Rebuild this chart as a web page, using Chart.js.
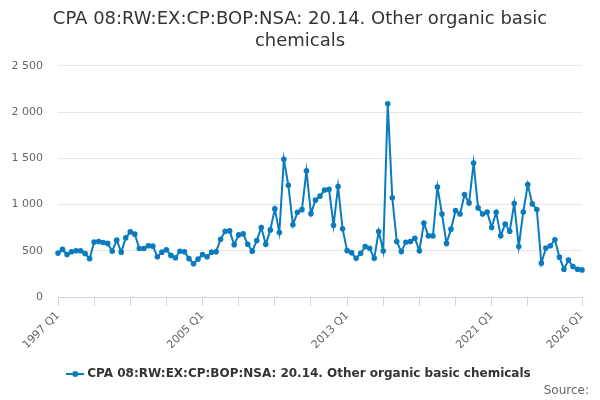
<!DOCTYPE html>
<html>
<head>
<meta charset="utf-8">
<script src="https://cdn.jsdelivr.net/npm/chart.js@4.4.1/dist/chart.umd.min.js"></script>
<style>
  html, body { margin: 0; padding: 0; background: #fff; }
  #wrap { width: 600px; height: 400px; }
</style>
</head>
<body>
<div id="wrap"><canvas id="chart"></canvas></div>
<script>
// quarters 1997 Q1 .. 2026 Q1
const quarters = [];
for (let y = 1997; y <= 2026; y++) {
    for (let q = 1; q <= 4; q++) {
        if (y === 2026 && q > 1) break;
        quarters.push(y + ' Q' + q);
    }
}

const seriesName = 'CPA 08:RW:EX:CP:BOP:NSA: 20.14. Other organic basic chemicals';

const values = [
    475, 515, 460, 490, 500, 500, 470, 415,
    595, 600, 590, 580, 495, 615, 485, 640,
    705, 680, 525, 525, 555, 550, 435, 485,
    510, 450, 425, 495, 490, 415, 360, 410,
    460, 435, 485, 490, 625, 710, 715, 565,
    672, 683, 570, 496, 610, 752, 570, 726,
    953, 697, 1490, 1208, 781, 916, 945, 1365,
    902, 1048, 1091, 1157, 1164, 775, 1196, 738,
    502, 480, 418, 473, 545, 527, 418, 709,
    498, 2090, 1073, 600, 491, 593, 600, 636,
    500, 799, 661, 661, 1190, 898, 580, 734,
    934, 898, 1109, 1018, 1449, 964, 898, 920,
    752, 916, 662, 790, 712, 1011, 547, 920,
    1217, 1007, 946, 366, 529, 554, 620, 431,
    301, 399, 330, 301, 293
];

// tick marks every 2 years, labels every 8 years plus the last quarter
const tickIndexes = [0, 8, 16, 24, 32, 40, 48, 56, 64, 72, 80, 88, 96, 104, 116];
const labelIndexes = [0, 32, 64, 96, 116];

const yTicks = [0, 500, 1000, 1500, 2000, 2500];

const lineColor = '#0a7bbf';

// legend symbol: short line with a dot
const legendIcon = document.createElement('canvas');
legendIcon.width = 18;
legendIcon.height = 8;
const ictx = legendIcon.getContext('2d');
ictx.strokeStyle = lineColor;
ictx.lineWidth = 2;
ictx.beginPath();
ictx.moveTo(0, 4);
ictx.lineTo(18, 4);
ictx.stroke();
ictx.fillStyle = lineColor;
ictx.beginPath();
ictx.arc(9, 4, 3, 0, Math.PI * 2);
ictx.fill();

// "Source:" credit at the bottom right
const sourceText = {
    id: 'sourceText',
    afterDraw(chart) {
        const c = chart.ctx;
        c.save();
        c.font = '12px "DejaVu Sans"';
        c.fillStyle = '#666666';
        c.textAlign = 'right';
        c.textBaseline = 'middle';
        c.fillText('Source:', 589, 391);
        c.restore();
    }
};

const ctx = document.getElementById('chart');

new Chart(ctx, {
    type: 'line',
    data: {
        labels: quarters,
        datasets: [{
            label: seriesName,
            data: values,
            borderColor: lineColor,
            backgroundColor: lineColor,
            borderWidth: 2,
            pointRadius: 1.8,
            pointHoverRadius: 3,
            tension: 0
        }]
    },
    plugins: [sourceText],
    options: {
        responsive: true,
        maintainAspectRatio: false,
        animation: false,
        layout: {
            padding: { left: 9, right: 9, top: 0, bottom: 10 }
        },
        plugins: {
            title: {
                display: true,
                text: ['CPA 08:RW:EX:CP:BOP:NSA: 20.14. Other organic basic', 'chemicals'],
                color: '#333333',
                font: { family: 'DejaVu Sans', size: 18, weight: 'normal', lineHeight: 1.22 },
                padding: { top: 8, bottom: 14 }
            },
            legend: {
                position: 'bottom',
                labels: {
                    usePointStyle: true,
                    pointStyle: legendIcon,
                    color: '#333333',
                    font: { family: 'DejaVu Sans', size: 12, weight: 'bold' },
                    padding: 10
                }
            },
            tooltip: { enabled: false }
        },
        scales: {
            x: {
                grid: {
                    drawOnChartArea: false,
                    drawTicks: true,
                    tickLength: 9,
                    color: '#ccd6eb'
                },
                border: { color: '#ccd6eb' },
                afterBuildTicks: (scale) => {
                    scale.ticks = tickIndexes.map(v => ({ value: v }));
                },
                afterFit: (scale) => {
                    scale.height = 61;
                },
                ticks: {
                    autoSkip: false,
                    minRotation: 45,
                    maxRotation: 45,
                    color: '#666666',
                    font: { family: 'DejaVu Sans', size: 11 },
                    padding: 3,
                    callback: function (val) {
                        return labelIndexes.includes(val) ? quarters[val] : '';
                    }
                }
            },
            y: {
                min: 0,
                max: 2500,
                afterBuildTicks: (scale) => {
                    scale.ticks = yTicks.map(v => ({ value: v }));
                },
                afterFit: (scale) => {
                    scale.width = 49;
                },
                grid: {
                    color: '#e6e6e6',
                    drawTicks: false
                },
                border: { display: false },
                ticks: {
                    color: '#666666',
                    font: { family: 'DejaVu Sans', size: 11 },
                    padding: 15,
                    callback: (v) => String(v).replace(/\B(?=(\d{3})+(?!\d))/g, ' ')
                }
            },
            // empty spacer on the right so the plot ends where the reference does
            spacer: {
                type: 'linear',
                position: 'right',
                display: true,
                grid: { display: false },
                border: { display: false },
                ticks: { display: false },
                afterFit: (scale) => {
                    scale.width = 9;
                }
            }
        }
    }
});
</script>
</body>
</html>
